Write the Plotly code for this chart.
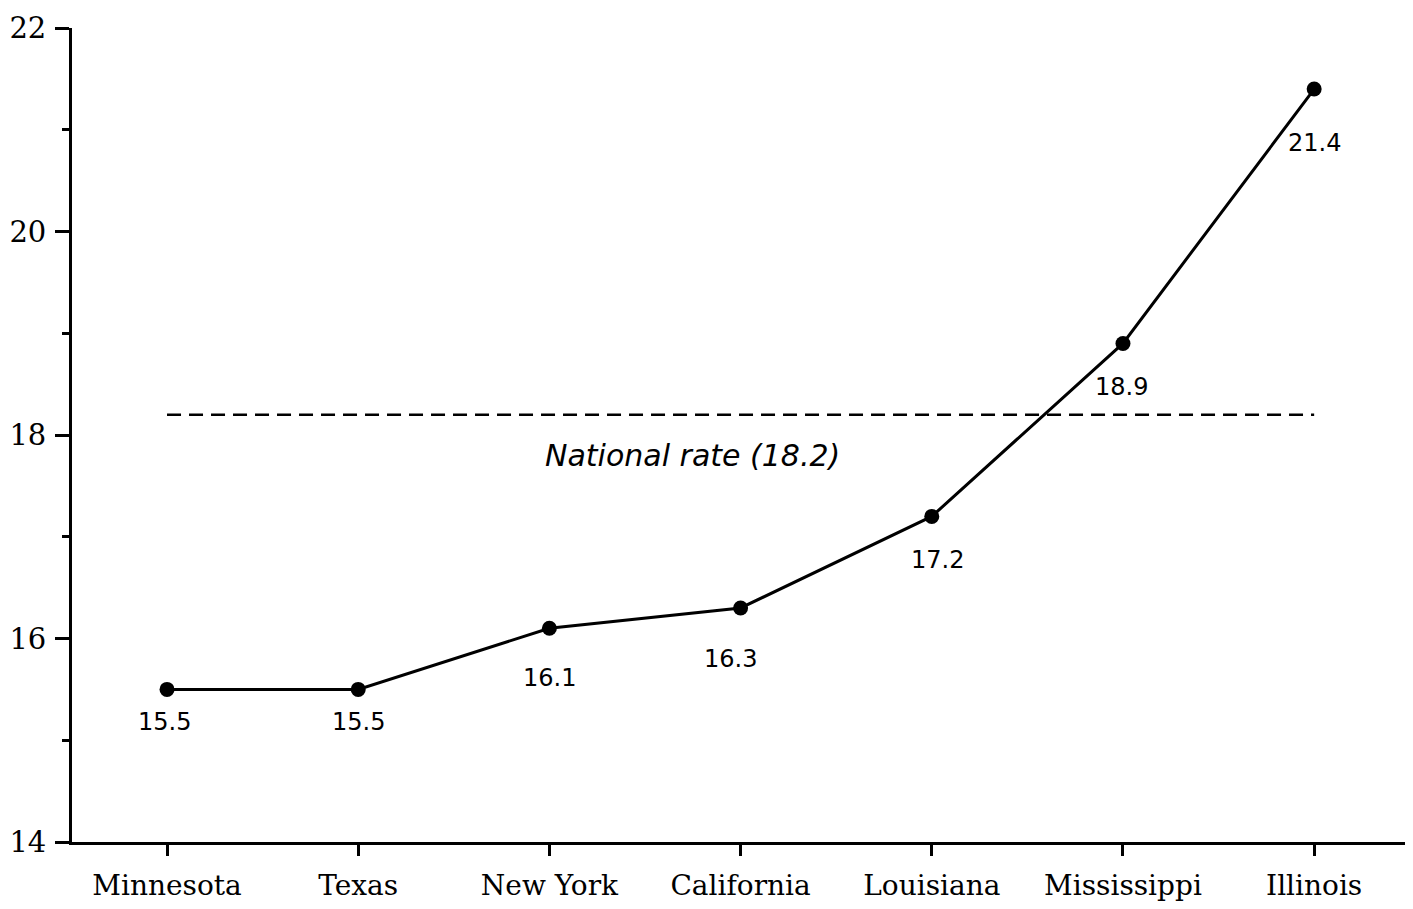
import plotly.graph_objects as go

states = ["Minnesota", "Texas", "New York", "California", "Louisiana", "Mississippi", "Illinois"]
rates = [15.5, 15.5, 16.1, 16.3, 17.2, 18.9, 21.4]
national_rate = 18.2
y_ticks = [14, 16, 18, 20, 22]

# how far under each point its value label sits (px) and sideways nudge
label_dy = [-33, -33, -50, -51, -44, -44, -54]
label_dx = [-3, 0, 0, -10, 6, -1, 0]

SERIF = "DejaVu Serif"

fig = go.Figure()

fig.add_trace(
    go.Scatter(
        x=[states[0], states[-1]],
        y=[national_rate, national_rate],
        mode="lines",
        line={"color": "black", "width": 2.5, "dash": "14px,8px"},
        showlegend=False,
        hoverinfo="skip",
    )
)
fig.add_trace(
    go.Scatter(
        x=states,
        y=rates,
        mode="lines+markers",
        line={"color": "black", "width": 3},
        marker={"color": "black", "size": 15},
        showlegend=False,
    )
)

for state, rate, dy, dx in zip(states, rates, label_dy, label_dx):
    fig.add_annotation(
        x=state, y=rate, text=f"{rate:.1f}", showarrow=False,
        yshift=dy, xshift=dx,
        font={"family": "DejaVu Sans", "size": 24, "color": "black"},
    )

fig.add_annotation(
    x=2.75, y=national_rate, text=f"<i>National rate ({national_rate})</i>",
    showarrow=False, yshift=-41,
    font={"family": "DejaVu Sans", "size": 30, "color": "black"},
)

fig.update_xaxes(
    type="category",
    categoryorder="array",
    categoryarray=states,
    range=[-0.497, 6.517],
    showline=True, linecolor="black", linewidth=2.8,
    ticks="outside", ticklen=11, tickwidth=2.8, tickcolor="black",
    ticklabelstandoff=5,
    showgrid=False, zeroline=False,
    tickfont={"family": SERIF, "size": 28, "color": "black"},
)
fig.update_yaxes(
    range=[14, 22],
    tickvals=y_ticks,
    showline=True, linecolor="black", linewidth=2.8,
    ticks="outside", ticklen=14, tickwidth=2.8, tickcolor="black",
    ticklabelstandoff=3,
    minor={"ticks": "outside", "ticklen": 7, "tickwidth": 2.8,
           "tickcolor": "black", "dtick": 1, "showgrid": False},
    showgrid=False, zeroline=False,
    tickfont={"family": SERIF, "size": 29, "color": "black"},
)
fig.update_layout(
    width=1405, height=901,
    margin={"l": 64, "r": 0, "t": 20, "b": 67},
    plot_bgcolor="white", paper_bgcolor="white",
)

fig.write_html("out.html")
